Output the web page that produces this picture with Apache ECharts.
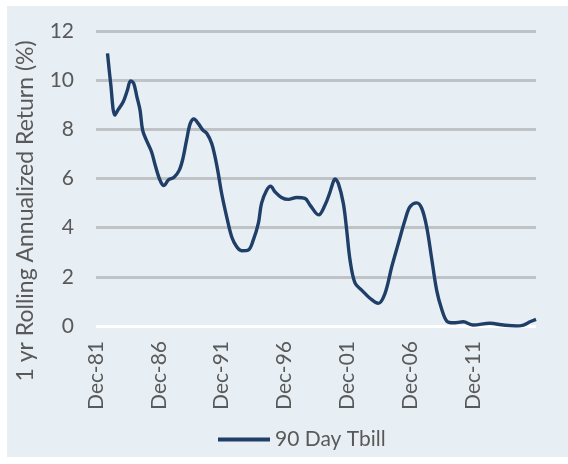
<!DOCTYPE html>
<html>
<head>
<meta charset="utf-8">
<script src="https://cdn.jsdelivr.net/npm/echarts@6/dist/echarts.min.js"></script>
<style>
html,body{margin:0;padding:0;background:#ffffff;}
#panel{position:absolute;left:7px;top:6px;width:561px;height:451px;background:#e8eff4;}
#chart{position:absolute;left:0;top:0;width:568px;height:464px;}
</style>
</head>
<body>
<div id="panel"></div>
<div id="chart"></div>
<script>
// Month index counted from Dec-81 (0) to Dec-16 (420)
const tickLabels = ['Dec-81','Dec-86','Dec-91','Dec-96','Dec-01','Dec-06','Dec-11','Dec-16'];
const seriesName = '90 Day Tbill';
const yTitle = '1 yr Rolling Annualized Return (%)';
const months = [11,14,18,21,26,30,33,36,39,42,44.5,48,53,56,61,65,69,74.5,79.5,83,86.5,90,93.5,97.5,102,105.7,110.4,113.6,116.7,119.9,124.7,129.5,134.3,139,145.4,150.2,155,158,163,166.7,170.8,177,183.6,191.6,199.5,204.3,212.5,218.6,223.4,225,228.1,231.3,236.1,239.3,242.5,247.2,253.6,261.5,269.5,275.9,282.3,288.6,295,299.7,306.1,310.9,315.6,320.4,325.2,330,334.8,341,350.6,360,376,388.8,401.6,408,414.3,420];
const values = [11.09,9.87,8.58,8.79,9.12,9.6,9.97,9.87,9.33,8.79,7.97,7.57,7.09,6.62,5.94,5.71,5.94,6.05,6.34,6.82,7.57,8.24,8.42,8.24,7.97,7.84,7.43,6.89,6.21,5.40,4.45,3.63,3.22,3.06,3.09,3.50,4.18,4.99,5.53,5.69,5.46,5.23,5.15,5.23,5.19,4.92,4.52,4.92,5.45,5.67,5.98,5.80,4.99,3.90,2.68,1.75,1.46,1.13,0.92,1.33,2.41,3.36,4.31,4.85,5.01,4.79,4.04,2.75,1.45,0.68,0.20,0.13,0.17,0.04,0.11,0.04,0.0,0.04,0.17,0.27];

const seriesData = months.map((m, i) => [m, values[i]]);
const textColor = '#595959';
const fontFamily = 'Lato, "Liberation Sans", sans-serif';

const chart = echarts.init(document.getElementById('chart'), null, {renderer: 'canvas'});
chart.setOption({
  backgroundColor: 'transparent',
  animation: false,
  grid: {left: 96, right: 32, top: 31, bottom: 138, containLabel: false},
  graphic: [{
    type: 'text',
    x: 26,
    y: 211,
    rotation: Math.PI / 2,
    style: {
      text: yTitle,
      fill: textColor,
      font: '23px ' + fontFamily,
      textAlign: 'center',
      textVerticalAlign: 'middle'
    }
  }],
  legend: {
    data: [seriesName],
    bottom: 9,
    left: 213,
    itemWidth: 52,
    itemHeight: 4,
    itemGap: 4,
    icon: 'rect',
    textStyle: {color: textColor, fontSize: 21, fontFamily: fontFamily}
  },
  xAxis: {
    type: 'value',
    min: 0,
    max: 420,
    interval: 60,
    axisLine: {show: false},
    axisTick: {show: false},
    splitLine: {show: false},
    axisLabel: {
      rotate: 90,
      color: textColor,
      fontSize: 21,
      fontFamily: fontFamily,
      margin: 15,
      showMaxLabel: false,
      formatter: v => tickLabels[Math.round(v / 60)] || ''
    }
  },
  yAxis: {
    type: 'value',
    min: 0,
    max: 12,
    interval: 2,
    axisLine: {show: false},
    axisTick: {show: false},
    axisLabel: {color: textColor, fontSize: 21, fontFamily: fontFamily, margin: 22},
    splitLine: {
      show: true,
      lineStyle: {color: ['#ffffff','#bfc3c6','#bfc3c6','#bfc3c6','#bfc3c6','#bfc3c6','#bfc3c6'], width: [3]}
    }
  },
  series: [{
    name: seriesName,
    type: 'line',
    data: seriesData,
    smooth: 0.35,
    showSymbol: false,
    lineStyle: {color: '#1f3e68', width: 3.4},
    itemStyle: {color: '#1f3e68'},
    z: 5
  }]
});
</script>
</body>
</html>
